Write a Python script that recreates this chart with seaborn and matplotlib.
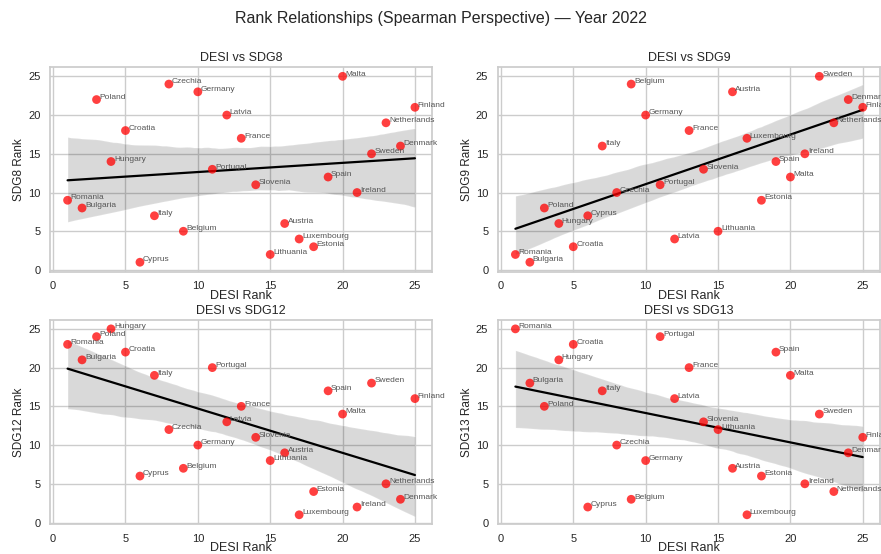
import numpy as np
import pandas as pd
import seaborn as sns
import matplotlib.pyplot as plt

# DESI rank per country and each SDG rank, year 2022
countries = ["Romania", "Bulgaria", "Poland", "Hungary", "Croatia", "Cyprus", "Italy",
             "Czechia", "Belgium", "Germany", "Portugal", "Latvia", "France", "Slovenia",
             "Lithuania", "Austria", "Luxembourg", "Estonia", "Spain", "Malta", "Ireland",
             "Sweden", "Netherlands", "Denmark", "Finland"]
desi_rank = [1, 2, 3, 4, 5, 6, 7, 8, 9, 10, 11, 12, 13, 14, 15, 16, 17, 18, 19, 20, 21, 22, 23, 24, 25]
sdg8_rank = [9, 8, 22, 14, 18, 1, 7, 24, 5, 23, 13, 20, 17, 11, 2, 6, 4, 3, 12, 25, 10, 15, 19, 16, 21]
sdg9_rank = [2, 1, 8, 6, 3, 7, 16, 10, 24, 20, 11, 4, 18, 13, 5, 23, 17, 9, 14, 12, 15, 25, 19, 22, 21]
sdg12_rank = [23, 21, 24, 25, 22, 6, 19, 12, 7, 10, 20, 13, 15, 11, 8, 9, 1, 4, 17, 14, 2, 18, 5, 3, 16]
sdg13_rank = [25, 18, 15, 21, 23, 2, 17, 10, 3, 8, 24, 16, 20, 13, 12, 7, 1, 6, 22, 19, 5, 14, 4, 9, 11]

df = pd.DataFrame({"country": countries, "DESI": desi_rank, "SDG8": sdg8_rank,
                   "SDG9": sdg9_rank, "SDG12": sdg12_rank, "SDG13": sdg13_rank})

sns.set_theme(style="whitegrid")
plt.rcParams['font.family'] = ['Liberation Sans', 'DejaVu Sans']

fig, axes = plt.subplots(2, 2, figsize=(8.81, 5.54), dpi=100)
fig.subplots_adjust(left=0.057, right=0.999, top=0.879, bottom=0.054, wspace=0.172, hspace=0.235)

for ax, goal in zip(axes.flat, ["SDG8", "SDG9", "SDG12", "SDG13"]):
    sns.regplot(data=df, x="DESI", y=goal, ax=ax, scatter=False, color="black",
                line_kws={"linewidth": 1.6}, seed=0)
    sns.scatterplot(data=df, x="DESI", y=goal, ax=ax, color="red", alpha=0.75,
                    s=40, edgecolor="none", zorder=3)
    # country labels next to each point
    for _, row in df.iterrows():
        ax.text(row["DESI"] + 0.2, row[goal] + 0.1, row["country"], fontsize=6,
                color="#555555", zorder=4)
    ax.set_title(f"DESI vs {goal}", fontsize=9, pad=4)
    ax.set_xlabel("DESI Rank", fontsize=9, labelpad=-1)
    ax.set_ylabel(f"{goal} Rank", fontsize=8.5, labelpad=2)
    ax.set_xticks([0, 5, 10, 15, 20, 25])
    ax.set_yticks([0, 5, 10, 15, 20, 25])
    ax.tick_params(labelsize=8, pad=1)
    ax.set_xlim(-0.2, 26.2)
    ax.set_ylim(-0.2, 26.2)

fig.suptitle("Rank Relationships (Spearman Perspective) \u2014 Year 2022", fontsize=11.5, y=0.98)

plt.savefig("out.png", dpi=100)
